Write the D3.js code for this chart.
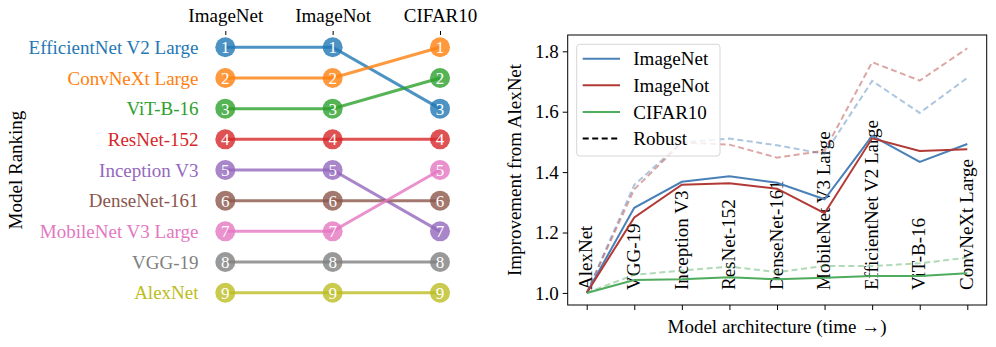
<!DOCTYPE html>
<html>
<head>
<meta charset="utf-8">
<script src="https://cdn.jsdelivr.net/npm/d3@7"></script>
<style>
  body { margin: 0; background: #fff; }
  svg text { font-family: "Liberation Serif", "DejaVu Serif", serif; }
</style>
</head>
<body>
<div id="container"></div>
<script>
const width = 996
const height = 347
const fs = 19

// ---- data ----
const datasets = ['ImageNet', 'ImageNot', 'CIFAR10']
const rankModels = ['EfficientNet V2 Large', 'ConvNeXt Large', 'ViT-B-16', 'ResNet-152',
  'Inception V3', 'DenseNet-161', 'MobileNet V3 Large', 'VGG-19', 'AlexNet']
const rankColors = ['#1f77b4', '#ff7f0e', '#2ca02c', '#d62728', '#9467bd',
  '#8c564b', '#e377c2', '#7f7f7f', '#bcbd22']
// rank of each model (same order as rankModels) in ImageNet, ImageNot, CIFAR10
const rankImageNet = [1, 2, 3, 4, 5, 6, 7, 8, 9]
const rankImageNot = [1, 2, 3, 4, 5, 6, 7, 8, 9]
const rankCifar = [3, 1, 2, 4, 7, 6, 5, 8, 9]

const timeModels = ['AlexNet', 'VGG-19', 'Inception V3', 'ResNet-152', 'DenseNet-161',
  'MobileNet V3 Large', 'EfficientNet V2 Large', 'ViT-B-16', 'ConvNeXt Large']
const imagenetVals = [1.0, 1.282, 1.368, 1.386, 1.365, 1.31, 1.52, 1.434, 1.493]
const imagenotVals = [1.0, 1.25, 1.358, 1.363, 1.345, 1.264, 1.512, 1.47, 1.476]
const cifarVals = [1.0, 1.043, 1.045, 1.052, 1.045, 1.05, 1.056, 1.056, 1.065]
const imagenetRobust = [1.0, 1.358, 1.498, 1.511, 1.489, 1.46, 1.702, 1.596, 1.712]
const imagenotRobust = [1.0, 1.343, 1.498, 1.491, 1.448, 1.471, 1.764, 1.703, 1.81]
const cifarRobust = [1.0, 1.06, 1.074, 1.087, 1.069, 1.089, 1.089, 1.098, 1.117]
const yTicks = [1.0, 1.2, 1.4, 1.6, 1.8]

const svg = d3.select('#container')
  .append('svg')
  .attr('width', width)
  .attr('height', height)

// ================= left: ranking bump chart =================
const lx = d3.scalePoint().domain(datasets).range([225.3, 440])
const ly = d3.scaleLinear().domain([1, 9]).range([47.3, 292.7])

const left = svg.append('g')

left.append('g')
  .attr('transform', 'translate(0,35)')
  .call(d3.axisTop(lx).tickSize(4).tickPadding(9))
  .call(g => g.select('.domain').remove())
  .call(g => g.selectAll('text').attr('font-size', fs).attr('fill', '#000'))

const ranks = rankModels.map((m, i) => ({
  name: m,
  color: rankColors[i],
  pts: [rankImageNet[i], rankImageNot[i], rankCifar[i]].map((r, j) => ({ ds: datasets[j], rank: r }))
}))

const line = d3.line().x(d => lx(d.ds)).y(d => ly(d.rank))

left.selectAll('path.rank')
  .data(ranks)
  .enter()
  .append('path')
  .attr('d', d => line(d.pts))
  .attr('fill', 'none')
  .attr('stroke', d => d.color)
  .attr('stroke-width', 3)
  .attr('opacity', 0.8)

const dots = left.selectAll('g.dot')
  .data(ranks.flatMap(d => d.pts.map(p => ({ ...p, color: d.color }))))
  .enter()
  .append('g')
  .attr('transform', d => `translate(${lx(d.ds)},${ly(d.rank)})`)

dots.append('circle')
  .attr('r', 10)
  .attr('fill', d => d.color)
  .attr('opacity', 0.8)

dots.append('text')
  .attr('text-anchor', 'middle')
  .attr('dy', '0.35em')
  .attr('font-size', 17)
  .attr('fill', '#fff')
  .text(d => d.rank)

left.selectAll('text.mname')
  .data(ranks)
  .enter()
  .append('text')
  .attr('x', 198.5)
  .attr('y', d => ly(d.pts[0].rank))
  .attr('dy', '0.35em')
  .attr('text-anchor', 'end')
  .attr('font-size', fs)
  .attr('fill', d => d.color)
  .text(d => d.name)

left.append('text')
  .attr('transform', 'translate(22,170) rotate(-90)')
  .attr('text-anchor', 'middle')
  .attr('font-size', fs)
  .text('Model Ranking')

// ================= right: improvement lines =================
const box = { x0: 567.7, x1: 986.7, y0: 35, y1: 305 }
const x = d3.scalePoint().domain(timeModels).range([586.7, 967.3])
const y = d3.scaleLinear().domain([0.96, 1.854]).range([box.y1, box.y0])

const right = svg.append('g')

right.append('g')
  .attr('transform', `translate(0,${box.y1})`)
  .call(d3.axisBottom(x).tickSize(5).tickFormat(''))
  .call(g => g.select('.domain').remove())

right.append('g')
  .attr('transform', `translate(${box.x0},0)`)
  .call(d3.axisLeft(y).tickValues(yTicks).tickFormat(d3.format('.1f')).tickSize(5).tickPadding(4))
  .call(g => g.select('.domain').remove())
  .call(g => g.selectAll('text').attr('font-size', fs).attr('fill', '#000'))

// rotated category labels inside the plot
right.selectAll('text.xlab')
  .data(timeModels)
  .enter()
  .append('text')
  .attr('transform', d => `translate(${x(d) - 1},290) rotate(-90)`)
  .attr('dy', '0.35em')
  .attr('font-size', fs)
  .text(d => d)

const series = [
  { name: 'ImageNet', vals: imagenetVals, robust: imagenetRobust, color: '#4a80b8' },
  { name: 'ImageNot', vals: imagenotVals, robust: imagenotRobust, color: '#b23a36' },
  { name: 'CIFAR10', vals: cifarVals, robust: cifarRobust, color: '#4fab5d' }
]

const vline = d3.line().x((d, i) => x(timeModels[i])).y(d => y(d))

right.selectAll('path.rob')
  .data(series)
  .enter()
  .append('path')
  .attr('d', d => vline(d.robust))
  .attr('fill', 'none')
  .attr('stroke', d => d.color)
  .attr('stroke-width', 2)
  .attr('stroke-dasharray', '6,3.5')
  .attr('opacity', 0.45)

right.selectAll('path.sol')
  .data(series)
  .enter()
  .append('path')
  .attr('d', d => vline(d.vals))
  .attr('fill', 'none')
  .attr('stroke', d => d.color)
  .attr('stroke-width', 2)

right.append('rect')
  .attr('x', box.x0)
  .attr('y', box.y0)
  .attr('width', box.x1 - box.x0)
  .attr('height', box.y1 - box.y0)
  .attr('fill', 'none')
  .attr('stroke', '#000')
  .attr('stroke-width', 1)

// legend
const legend = right.append('g').attr('transform', 'translate(576.7,44.3)')
legend.append('rect')
  .attr('width', 143.3)
  .attr('height', 111.7)
  .attr('rx', 3)
  .attr('fill', '#fff')
  .attr('fill-opacity', 0.8)
  .attr('stroke', '#d6d6d6')

const legItems = series.map(s => ({ name: s.name, color: s.color, dash: null }))
  .concat([{ name: 'Robust', color: '#000', dash: '6,3.5' }])

const li = legend.selectAll('g.li')
  .data(legItems)
  .enter()
  .append('g')
  .attr('transform', (d, i) => `translate(0,${14.4 + i * 26.6})`)

li.append('line')
  .attr('x1', 6)
  .attr('x2', 43.3)
  .attr('stroke', d => d.color)
  .attr('stroke-width', 2)
  .attr('stroke-dasharray', d => d.dash)

li.append('text')
  .attr('x', 56.6)
  .attr('dy', '0.35em')
  .attr('font-size', fs)
  .text(d => d.name)

right.append('text')
  .attr('transform', 'translate(521,170) rotate(-90)')
  .attr('text-anchor', 'middle')
  .attr('font-size', fs)
  .text('Improvement from AlexNet')

right.append('text')
  .attr('x', 777)
  .attr('y', 333)
  .attr('text-anchor', 'middle')
  .attr('font-size', fs)
  .text('Model architecture (time \u2192)')
</script>
</body>
</html>
